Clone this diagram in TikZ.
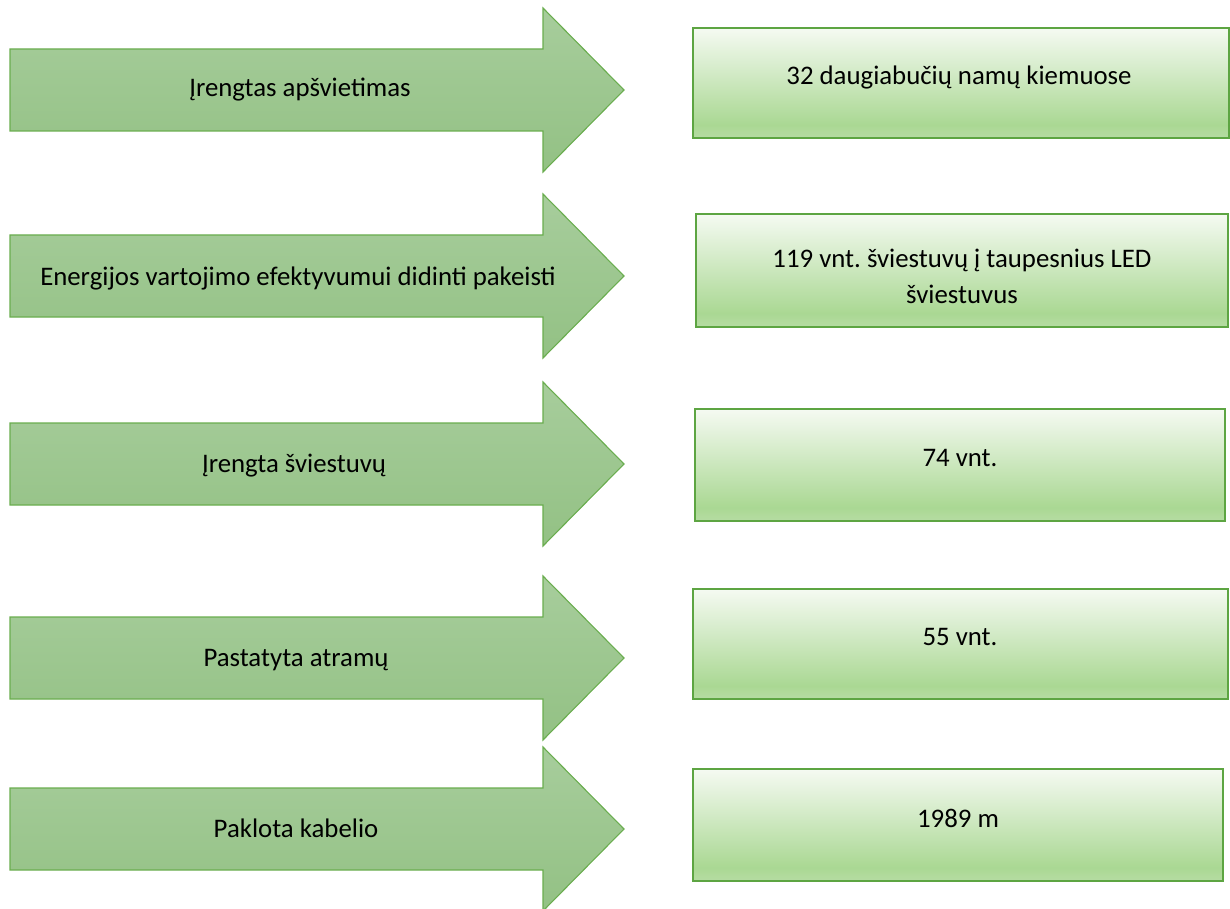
\documentclass[tikz,border=0pt]{standalone}
\usepackage{fontspec}
\setmainfont{Carlito}
\frenchspacing
\definecolor{arrowtop}{HTML}{A7CD9C}
\definecolor{arrowbot}{HTML}{93C184}
\definecolor{arrowline}{HTML}{6AAD4F}
\definecolor{boxtop}{HTML}{F5FAF2}
\definecolor{boxmid}{HTML}{AAD893}
\definecolor{boxbot}{HTML}{B6DCA3}
\definecolor{boxline}{HTML}{5DA542}
\pgfdeclareverticalshading{boxshade}{100bp}{color(0bp)=(boxbot); color(25bp)=(boxbot); color(31bp)=(boxmid); color(75bp)=(boxtop); color(100bp)=(boxtop)}
\tikzset{
  arrowshape/.style={draw=arrowline, line width=1.1pt, top color=arrowtop, bottom color=arrowbot, line join=miter},
  boxshape/.style={draw=boxline, line width=2.6pt, shading=boxshade},
  lbl/.style={font=\fontsize{26.8}{36}\selectfont, align=center, inner sep=0pt, text=black, anchor=base},
}
\newcommand{\bigarrow}[1]{% #1 = top of head (y)
  \path[arrowshape] (10,#1+41) -- (543,#1+41) -- (543,#1) -- (624,#1+82) -- (543,#1+164) -- (543,#1+123) -- (10,#1+123) -- cycle;
}
\begin{document}
\begin{tikzpicture}[x=1pt,y=-1pt]
\useasboundingbox (0,0) rectangle (1230,909);
% arrows
\bigarrow{8}
\bigarrow{194}
\bigarrow{382}
\bigarrow{576}
\bigarrow{747}
\node[lbl] (t1) at (300,97) {Įrengtas apšvietimas};
\node[lbl] (t2) at (298,285) {Energijos vartojimo efektyvumui didinti pakeisti};
\node[lbl] (t3) at (294,472) {Įrengta šviestuvų};
\node[lbl] (t4) at (296,666) {Pastatyta atramų};
\node[lbl] (t5) at (296,837) {Paklota kabelio};
% boxes
\path[boxshape] (693,28) rectangle (1229,138);
\path[boxshape] (696,214) rectangle (1228,327);
\path[boxshape] (695,409) rectangle (1225,521);
\path[boxshape] (693,589) rectangle (1228,699);
\path[boxshape] (693,769) rectangle (1223,881);
\node[lbl] (b1) at (959,85) {32 daugiabučių namų kiemuose};
\node[lbl] (b2a) at (962,267) {119 vnt. šviestuvų į taupesnius LED};
\node[lbl] (b2b) at (962,303) {šviestuvus};
\node[lbl] (b3) at (960,466) {74 vnt.};
\node[lbl] (b4) at (960,645) {55 vnt.};
\node[lbl] (b5) at (958,827) {1989 m};
\end{tikzpicture}
\end{document}
